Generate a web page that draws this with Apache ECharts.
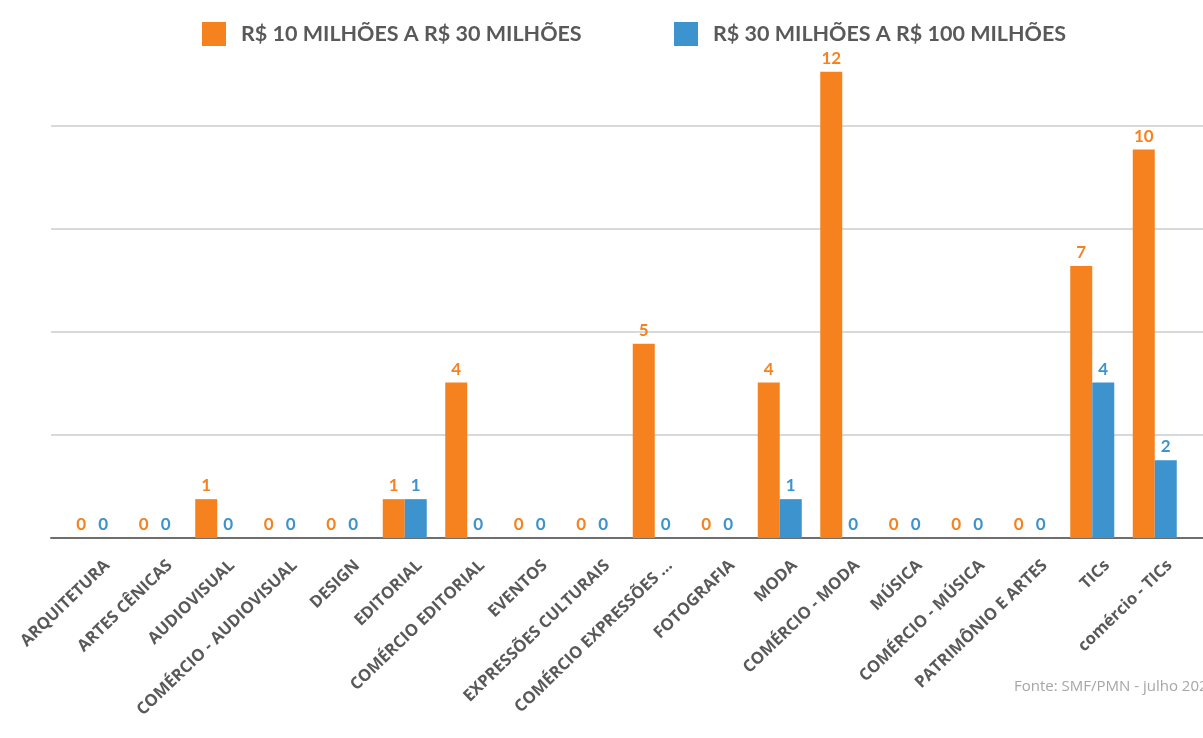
<!DOCTYPE html>
<html>
<head>
<meta charset="utf-8">
<script src="https://cdn.jsdelivr.net/npm/echarts@6/dist/echarts.min.js"></script>
<style>
  html, body { margin: 0; padding: 0; background: #fff; }
  #chart { width: 1203px; height: 738px; }
</style>
</head>
<body>
<div id="chart"></div>
<script>
// categorias (eixo x)
var categories = [
  'ARQUITETURA', 'ARTES CÊNICAS', 'AUDIOVISUAL', 'COMÉRCIO - AUDIOVISUAL',
  'DESIGN', 'EDITORIAL', 'COMÉRCIO EDITORIAL', 'EVENTOS',
  'EXPRESSÕES CULTURAIS', 'COMÉRCIO EXPRESSÕES ...', 'FOTOGRAFIA', 'MODA',
  'COMÉRCIO - MODA', 'MÚSICA', 'COMÉRCIO - MÚSICA', 'PATRIMÔNIO E ARTES',
  'TICs', 'comércio - TICs'
];
var seriesNames = ['R$ 10 MILHÕES A R$ 30 MILHÕES', 'R$ 30 MILHÕES A R$ 100 MILHÕES'];
var faixa10a30 = [0, 0, 1, 0, 0, 1, 4, 0, 0, 5, 0, 4, 12, 0, 0, 0, 7, 10];
var faixa30a100 = [0, 0, 0, 0, 0, 1, 0, 0, 0, 0, 0, 1, 0, 0, 0, 0, 4, 2];
var fonte = 'Fonte: SMF/PMN - julho 2020';

var laranja = '#F5821F';
var azul = '#3D93CD';
var cinza = '#595959';

var myChart = echarts.init(document.getElementById('chart'));

function labelCfg(cor) {
  return {
    show: true,
    position: 'top',
    distance: 5,
    color: cor,
    fontFamily: 'Lato',
    fontWeight: 'bold',
    fontSize: 17
  };
}

var option = {
  backgroundColor: '#fff',
  animation: false,
  legend: [
    {
      left: 197, top: 17,
      itemWidth: 24, itemHeight: 24,
      icon: 'rect',
      data: [seriesNames[0]],
      textStyle: { color: cinza, fontFamily: 'Lato', fontWeight: 'bold', fontSize: 21.5, padding: [0, 0, 0, 10] }
    },
    {
      left: 669, top: 17,
      itemWidth: 24, itemHeight: 24,
      icon: 'rect',
      data: [seriesNames[1]],
      textStyle: { color: cinza, fontFamily: 'Lato', fontWeight: 'bold', fontSize: 21.5, padding: [0, 0, 0, 10] }
    }
  ],
  grid: [
    // linhas de grade
    { left: 51, right: 0, top: 126, bottom: 200 },
    // barras
    { left: 61, right: 17, top: 33, bottom: 200 },
    // rótulos do eixo x (deslocados para a direita como no original)
    { left: 76, right: 2, top: 33, bottom: 200 }
  ],
  xAxis: [
    { gridIndex: 0, type: 'value', min: 0, max: 1, show: true,
      axisLine: { show: true, onZero: false, lineStyle: { color: '#6e6e6e', width: 2 } },
      axisTick: { show: false }, axisLabel: { show: false }, splitLine: { show: false } },
    { gridIndex: 1, type: 'category', data: categories,
      axisLine: { show: false }, axisTick: { show: false }, axisLabel: { show: false } },
    { gridIndex: 2, type: 'category', data: categories,
      axisLine: { show: false }, axisTick: { show: false },
      axisLabel: {
        interval: 0, rotate: 44, margin: 25,
        color: cinza, fontFamily: 'Open Sans', fontWeight: 'bold', fontSize: 16.5
      } }
  ],
  yAxis: [
    { gridIndex: 0, type: 'value', min: 0, max: 4, interval: 1,
      axisLine: { show: false }, axisTick: { show: false }, axisLabel: { show: false },
      splitLine: { show: true, lineStyle: { color: '#d9d9d9', width: 2 } } },
    { gridIndex: 1, type: 'value', min: 0, max: 13,
      axisLine: { show: false }, axisTick: { show: false }, axisLabel: { show: false },
      splitLine: { show: false } },
    { gridIndex: 2, type: 'value', show: false, splitLine: { show: false } }
  ],
  series: [
    {
      name: seriesNames[0], type: 'bar', xAxisIndex: 1, yAxisIndex: 1,
      barWidth: 22, barGap: '0%',
      itemStyle: { color: laranja },
      label: labelCfg(laranja),
      data: faixa10a30
    },
    {
      name: seriesNames[1], type: 'bar', xAxisIndex: 1, yAxisIndex: 1,
      barWidth: 22, barGap: '0%',
      itemStyle: { color: azul },
      label: labelCfg(azul),
      data: faixa30a100
    }
  ],
  graphic: [
    {
      type: 'text', left: 1014, top: 679,
      style: { text: fonte, fill: '#a6a6a6', font: '15px "Open Sans"' }
    }
  ]
};

myChart.setOption(option);
</script>
</body>
</html>
